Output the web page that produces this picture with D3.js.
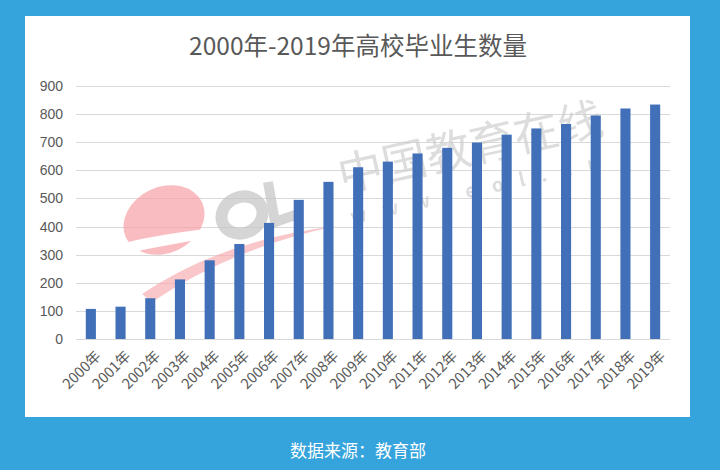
<!DOCTYPE html>
<html><head><meta charset="utf-8">
<script src="https://cdn.jsdelivr.net/npm/d3@7"></script>
<style>html,body{margin:0;padding:0;background:#35a4dc;}svg{display:block;}</style>
</head><body>
<svg id="c" width="720" height="470"></svg>
<script>
const years = ["2000年","2001年","2002年","2003年","2004年","2005年","2006年","2007年","2008年","2009年","2010年","2011年","2012年","2013年","2014年","2015年","2016年","2017年","2018年","2019年"];
const graduates = [107,115,145,212,280,338,413,495,559,611,631,660,680,699,727,749,765,795,820,834];
const yTicks = [0,100,200,300,400,500,600,700,800,900];
const title = "2000年-2019年高校毕业生数量";
const source = "数据来源：教育部";

const svg = d3.select("#c");
const W = 720, H = 470;
const font = "'Noto Sans CJK SC','Liberation Sans',sans-serif";

svg.append("rect").attr("width", W).attr("height", H).attr("fill", "#35a4dc");
svg.append("rect").attr("x", 25).attr("y", 16).attr("width", 665).attr("height", 401).attr("fill", "#ffffff");

const m = {left: 76, right: 670, top: 86, bottom: 339};
const x = d3.scaleBand().domain(years).range([m.left, m.right]).paddingInner(0.66).paddingOuter(0.33);
const y = d3.scaleLinear().domain([0, 900]).range([m.bottom, m.top]);

// mask for watermark swoosh
const defs = svg.append("defs");
const mask = defs.append("mask").attr("id", "cut").attr("maskUnits", "userSpaceOnUse")
  .attr("x", 0).attr("y", 0).attr("width", W).attr("height", H);
mask.append("rect").attr("width", W).attr("height", H).attr("fill", "#fff");
mask.append("path").attr("d", "M112,246 Q200,222 330,224 Q210,234 116,256 Z").attr("fill", "#000");

// gridlines
svg.append("g").selectAll("line").data(yTicks).join("line")
  .attr("x1", m.left).attr("x2", m.right)
  .attr("y1", d => Math.round(y(d)) + 0.5).attr("y2", d => Math.round(y(d)) + 0.5)
  .attr("stroke", "#d9d9d9").attr("stroke-width", 1);

// watermark
const wm = svg.append("g").attr("opacity", 0.7);
wm.append("g").attr("mask", "url(#cut)")
  .append("ellipse").attr("cx", 0).attr("cy", 0).attr("rx", 42).attr("ry", 33)
  .attr("transform", "translate(164,220) rotate(-25)").attr("fill", "#f7a0a6");
wm.append("path").attr("d", "M142,294 Q222,240 336,226 Q232,248 152,302 Z").attr("fill", "#f7aeb3");
wm.append("ellipse").attr("cx", 0).attr("cy", 0).attr("rx", 21).attr("ry", 18)
  .attr("transform", "translate(242,215) rotate(-25)").attr("fill", "none").attr("stroke", "#c4c4c4").attr("stroke-width", 12);
wm.append("path").attr("d", "M268,182 L275,222 L298,214").attr("fill", "none").attr("stroke", "#c4c4c4").attr("stroke-width", 10);
wm.append("text").attr("transform", "translate(342,192) rotate(-12.5)")
  .attr("font-family", font).attr("font-size", 45).attr("fill", "#cfcfcf").text("中国教育在线");
wm.append("text").attr("transform", "translate(352,224) rotate(-12.5)")
  .attr("font-family", font).attr("font-size", 19).attr("font-weight", 700).attr("letter-spacing", 16).attr("fill", "#cfcfcf").text("www.eol.cn");

// bars
svg.append("g").selectAll("rect").data(graduates).join("rect")
  .attr("x", (d, i) => x(years[i]))
  .attr("y", d => y(d))
  .attr("width", x.bandwidth())
  .attr("height", d => y(0) - y(d))
  .attr("fill", "#4170b8");

// y axis labels
const yAxis = d3.axisLeft(y).tickValues(yTicks).tickSize(0).tickPadding(13);
const ya = svg.append("g").attr("transform", `translate(${m.left},0)`).call(yAxis);
ya.select(".domain").remove();
ya.selectAll("text").attr("font-family", "'Liberation Sans',sans-serif").attr("font-size", 14).attr("fill", "#595959");

// x axis labels
const xAxis = d3.axisBottom(x).tickSize(0).tickPadding(0);
const xa = svg.append("g").attr("transform", `translate(0,${m.bottom})`).call(xAxis);
xa.select(".domain").remove();
xa.selectAll("text")
  .attr("font-family", font).attr("font-size", 14.5).attr("fill", "#595959")
  .attr("text-anchor", "end").attr("dy", null).attr("y", 0)
  .attr("transform", "translate(11,18) rotate(-45)");

// title
svg.append("text").attr("x", 358).attr("y", 55).attr("text-anchor", "middle")
  .attr("font-family", font).attr("font-size", 24.5).attr("fill", "#595959").text(title);

// source
svg.append("text").attr("x", 358).attr("y", 457).attr("text-anchor", "middle")
  .attr("font-family", font).attr("font-size", 17).attr("fill", "#ffffff").text(source);
</script>
</body></html>
